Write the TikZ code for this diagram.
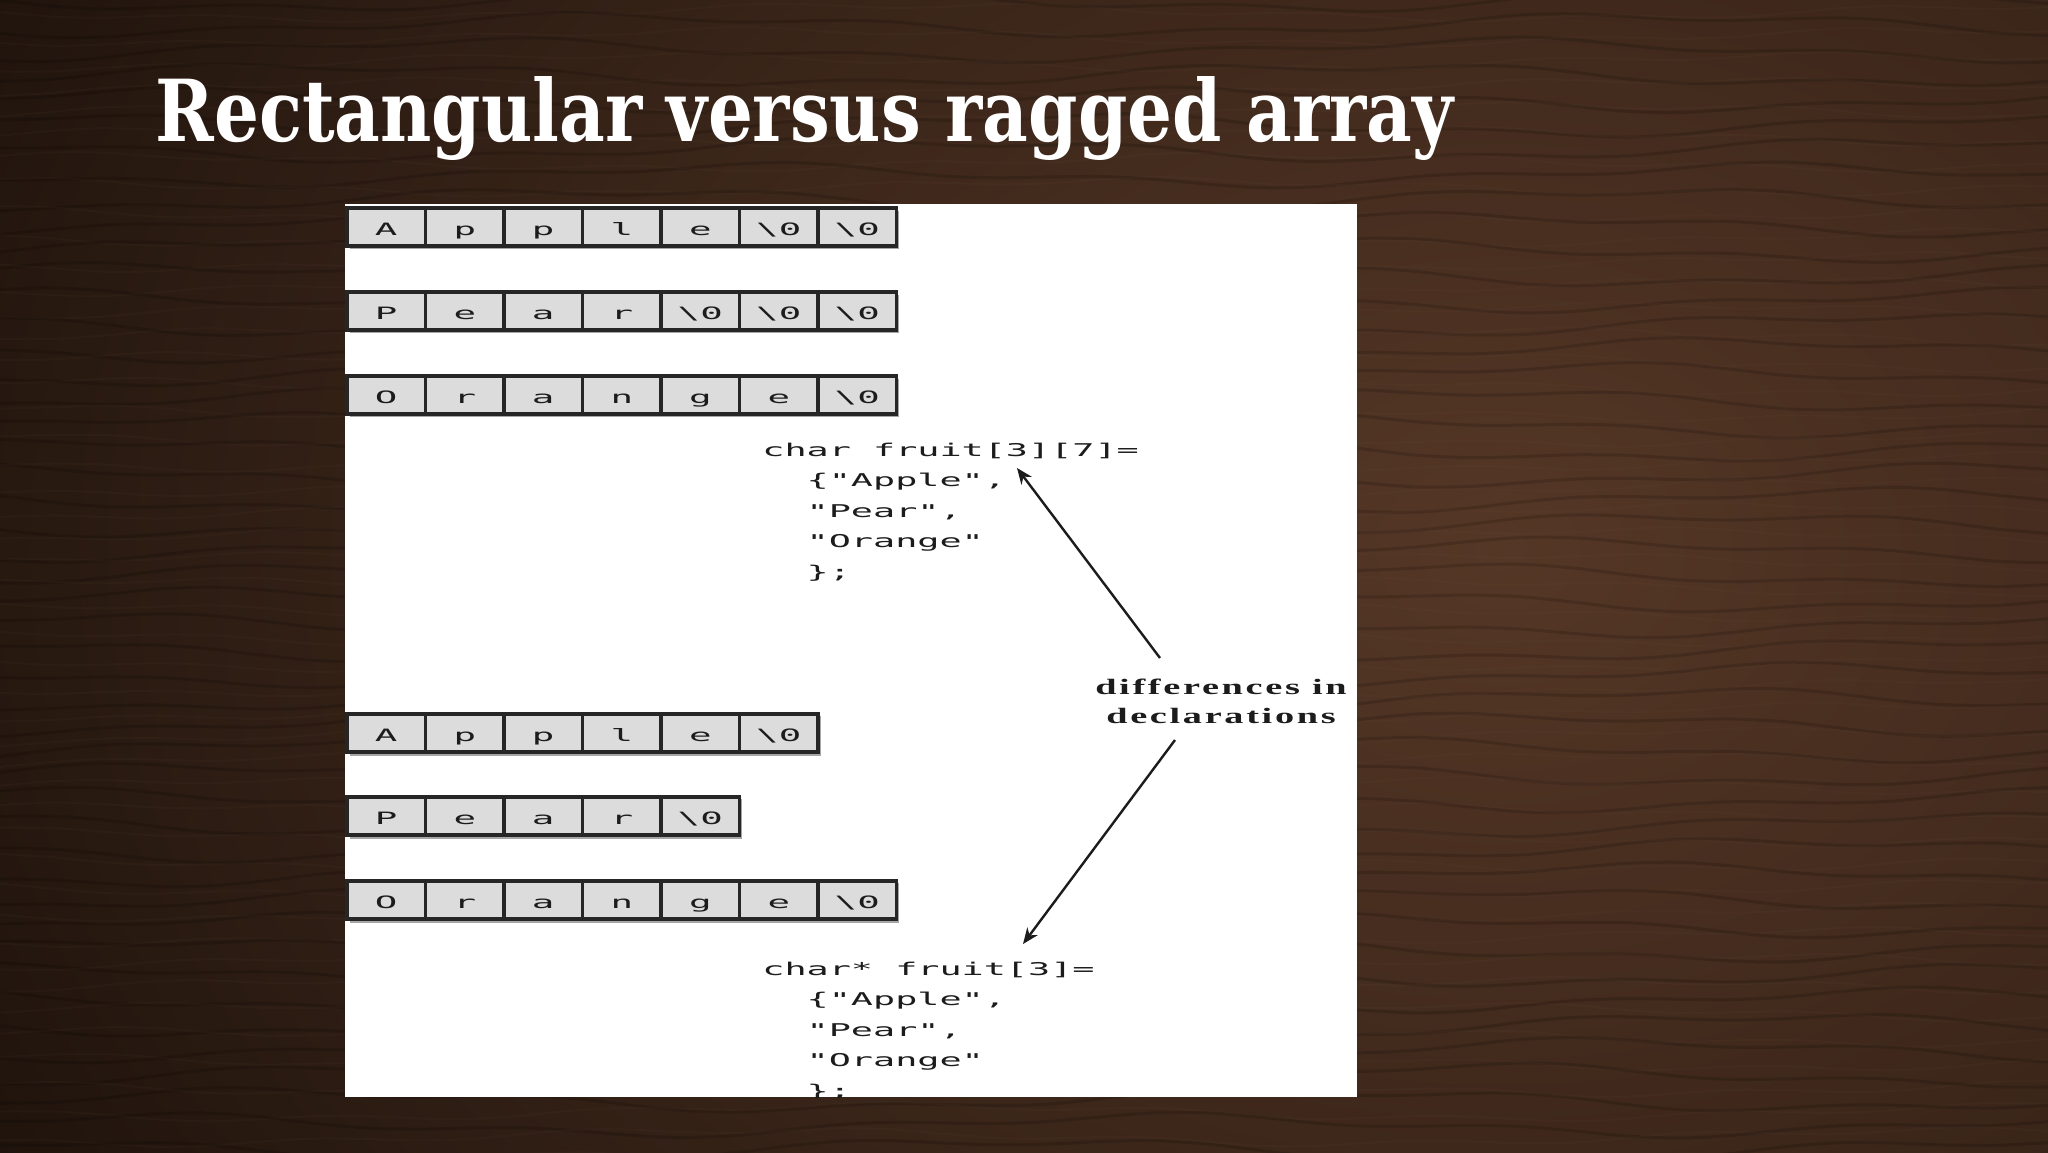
\documentclass[tikz,border=0pt]{standalone}
\usepackage{fontspec}
\usepackage{graphicx}
\usetikzlibrary{arrows.meta}
\newfontfamily\titlefont{DejaVu Serif}
\newfontfamily\codefont{DejaVu Sans Mono}
\newfontfamily\labelfont[LetterSpace=7]{Liberation Serif}
\definecolor{woodB}{HTML}{553726}
\definecolor{woodM}{HTML}{3A2519}
\definecolor{woodD}{HTML}{0F0905}
\definecolor{cellfill}{HTML}{DCDCDC}
\definecolor{cellline}{HTML}{262626}
\definecolor{inkc}{HTML}{1C1C1C}
\pgfdeclareradialshading{woodglow}{\pgfpoint{0bp}{0bp}}{color(0bp)=(woodB); color(16bp)=(woodM); color(36bp)=(woodD); color(50bp)=(woodD)}
\newcommand\sx[1]{\scalebox{2.09}[1]{#1}}
\newcommand\cx[1]{\scalebox{2.2}[1]{#1}}
\newcommand\lx[1]{\scalebox{1.74}[1]{#1}}
\newcommand\nul{\textbackslash0}
\tikzset{
  cell/.style={draw=cellline, line width=1.8pt, fill=cellfill, minimum width=39.25pt,
    minimum height=19pt, inner sep=0pt, text=inkc, text height=8pt, text depth=0pt,
    font=\codefont\fontsize{8.5}{10}\selectfont},
  code/.style={anchor=base west, align=left, inner sep=0pt, text=inkc,
    font=\codefont\fontsize{8.8}{15.25}\selectfont},
  arr/.style={draw=inkc, line width=1.2pt, -{Stealth[length=8pt,width=6.5pt]}},
  grainA/.style={line width=1.5pt, draw=black, opacity=0.14},
  grainB/.style={line width=1pt, draw=woodB!80!white, opacity=0.06},
  shadow/.style={fill=black!35}
}
\begin{document}
\begin{tikzpicture}[x=0.5pt,y=-0.5pt]
\useasboundingbox (0,0) rectangle (2048,1152);
% wood background
\begin{scope}
\clip (0,0) rectangle (2048,1152);
\fill[woodD] (0,0) rectangle (2048,1152);
\shade[shading=woodglow] (0,-550) rectangle (3000,1650);
\foreach \k in {0,...,46} {
  \draw[grainA] plot[domain=0:2048, samples=40, smooth] (\x,{\k*25 + 9*sin(0.35*\x + \k*53) + 4*sin(1.1*\x + \k*17)});
  \draw[grainB] plot[domain=0:2048, samples=40, smooth] (\x,{\k*25 + 12 + 7*sin(0.3*\x + \k*41) + 3*sin(1.3*\x + \k*29)});
}
\end{scope}
% title
\node[anchor=base west, inner sep=0pt, text=white] (title) at (155,141)
  {\resizebox{649pt}{32.5pt}{\titlefont\bfseries Rectangular versus ragged array}};
% white panel
\fill[white] (345,204) rectangle (1357,1097);
% row shadows
\fill[shadow] (350,211) rectangle (899,249);
\fill[shadow] (350,295) rectangle (899,333);
\fill[shadow] (350,379) rectangle (899,417);
\fill[shadow] (350,716) rectangle (821,756);
\fill[shadow] (350,799) rectangle (742,839);
\fill[shadow] (350,883) rectangle (899,923);
% rectangular array
\foreach \ch [count=\i from 0] in {A,p,p,l,e,\nul,\nul}
  {\node[cell] (ra\i) at (386.25+78.5*\i,227) {\cx{\ch}};}
\foreach \ch [count=\i from 0] in {P,e,a,r,\nul,\nul,\nul}
  {\node[cell] (rb\i) at (386.25+78.5*\i,311) {\cx{\ch}};}
\foreach \ch [count=\i from 0] in {O,r,a,n,g,e,\nul}
  {\node[cell] (rc\i) at (386.25+78.5*\i,395) {\cx{\ch}};}
% ragged array
\foreach \ch [count=\i from 0] in {A,p,p,l,e,\nul}
  {\node[cell] (ga\i) at (386.25+78.5*\i,733) {\cx{\ch}};}
\foreach \ch [count=\i from 0] in {P,e,a,r,\nul}
  {\node[cell] (gb\i) at (386.25+78.5*\i,816) {\cx{\ch}};}
\foreach \ch [count=\i from 0] in {O,r,a,n,g,e,\nul}
  {\node[cell] (gc\i) at (386.25+78.5*\i,900) {\cx{\ch}};}
% code (base anchor = baseline of last line)
\begin{scope}
\clip (345,204) rectangle (1357,1097);
\node[code] (codeA) at (762,578)
  {\sx{char fruit[3][7]=}\\\sx{\ \ \{"Apple",}\\\sx{\ \ "Pear",}\\\sx{\ \ "Orange"}\\\sx{\ \ \};}};
\node[code] (codeB) at (762,1097)
  {\sx{char* fruit[3]=}\\\sx{\ \ \{"Apple",}\\\sx{\ \ "Pear",}\\\sx{\ \ "Orange"}\\\sx{\ \ \};}};
\end{scope}
% label
\node[align=center, inner sep=0pt, text=inkc, font=\labelfont\bfseries\fontsize{11}{14.5}\selectfont]
  (diff) at (1221,701) {\lx{differences in}\\\lx{declarations}};
\coordinate (a1s) at (1160,658);
\coordinate (a1t) at (1017,468);
\coordinate (a2s) at (1175,740);
\coordinate (a2t) at (1023,944);
\draw[arr] (a1s) -- (a1t);
\draw[arr] (a2s) -- (a2t);
\end{tikzpicture}
\end{document}
